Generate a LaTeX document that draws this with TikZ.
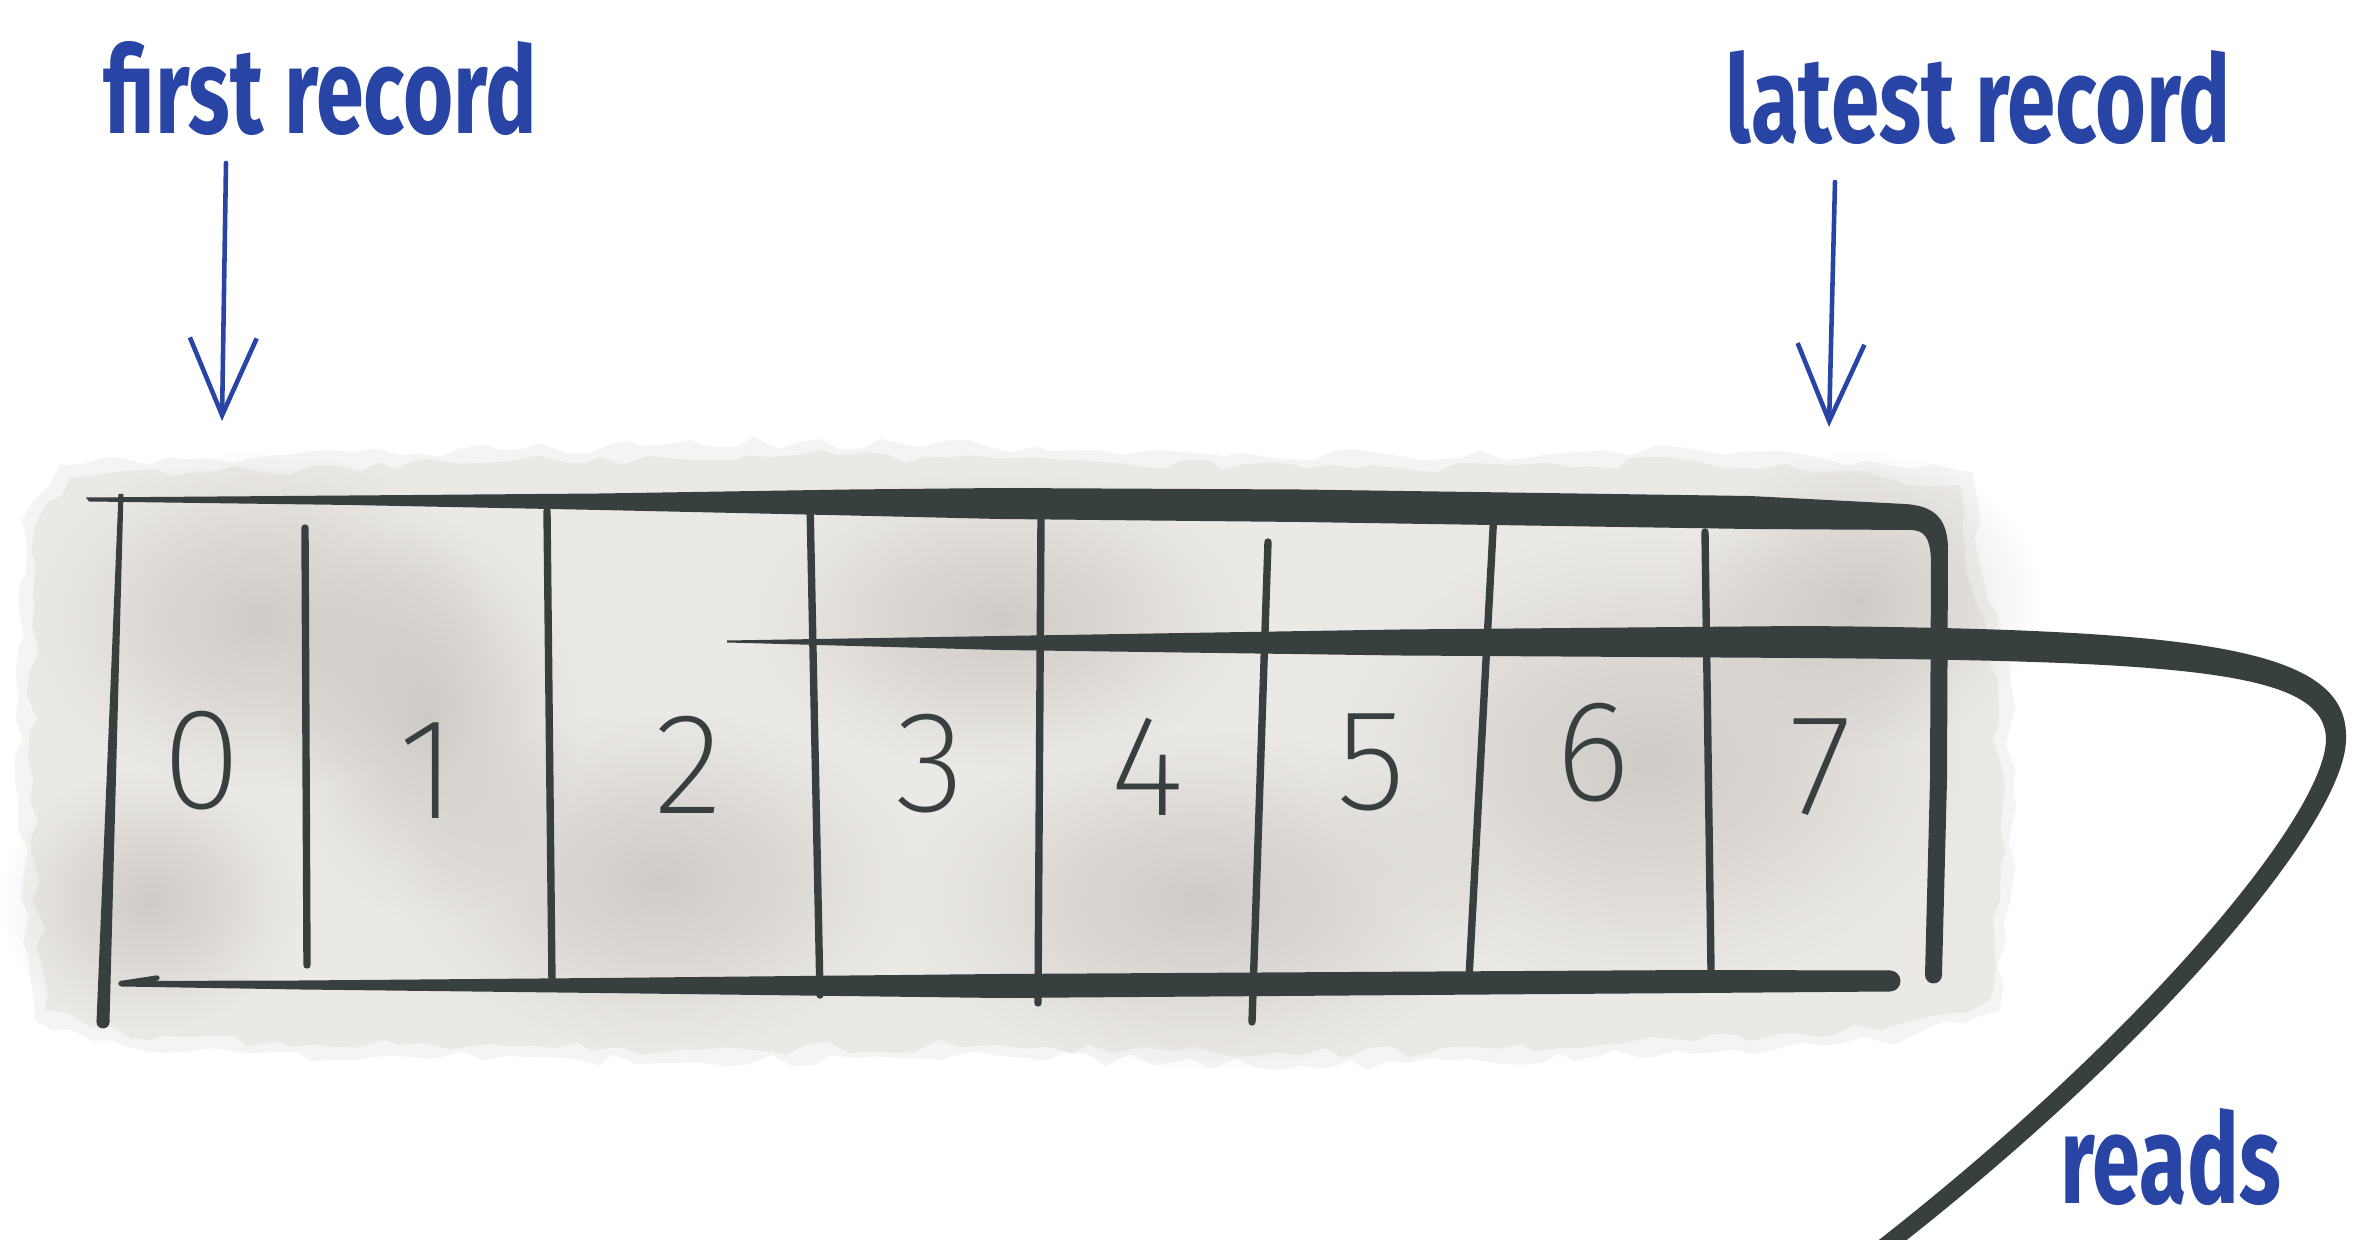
\documentclass[tikz,border=0pt]{standalone}
\usepackage{fontspec}
\usetikzlibrary{arrows.meta,fadings,decorations.pathmorphing}
\newfontfamily\handfont{Fira Sans}
\newfontfamily\digitfont{Fira Sans ExtraLight}
\definecolor{ink}{RGB}{56,63,63}
\definecolor{pen}{RGB}{40,68,165}
\definecolor{blobbase}{RGB}{235,233,230}
\definecolor{blobfringe}{RGB}{245,244,242}
\definecolor{blobdark}{RGB}{184,179,172}
\tikzfading[name=fuzzy, inner color=transparent!0, outer color=transparent!100]
\begin{document}
\begin{tikzpicture}[x=0.01cm,y=-0.01cm,
  inkfill/.style={fill=ink},
  divider/.style={draw=ink, line width=2.1pt, line cap=round},
  digit/.style={inner sep=0pt, text=ink, font=\digitfont\fontsize{41}{41}\selectfont},
  handlabel/.style={inner sep=0pt, text=pen, font=\handfont\bfseries},
  pointer/.style={draw=pen, line width=1.3pt, line cap=round, line join=round,
    -{Straight Barb[length=22pt,width=19pt]}},
  blotch/.style={fill=blobdark, fill opacity=0.55, path fading=fuzzy},
  ragged/.style={decorate, decoration={random steps, segment length=6pt, amplitude=1.8pt}}
]
\useasboundingbox (0,0) rectangle (2356,1240);
\fill[white] (0,0) rectangle (2356,1240);

% shaded background blob
\pgfmathsetseed{7}
\fill[blobfringe, ragged] (22,520) -- (60,465) -- (250,458) -- (500,450) -- (800,442) -- (1100,450)
  -- (1400,456) -- (1700,450) -- (1972,472) -- (1988,600) -- (2010,680) -- (2010,900)
  -- (2000,1010) -- (1885,1042) -- (1600,1056) -- (1300,1066) -- (1000,1056) -- (700,1062)
  -- (400,1056) -- (150,1052) -- (35,1020) -- (18,800) -- cycle;
\fill[blobbase, ragged] (35,525) -- (70,478) -- (250,470) -- (500,462) -- (800,455) -- (1100,462)
  -- (1400,468) -- (1700,462) -- (1960,485) -- (1975,600) -- (1998,680) -- (2000,900)
  -- (1990,1000) -- (1880,1030) -- (1600,1045) -- (1300,1055) -- (1000,1045) -- (700,1050)
  -- (400,1045) -- (150,1040) -- (45,1010) -- (30,800) -- cycle;
\fill[blotch] (260,620) ellipse (230 and 170);
\fill[blotch] (430,720) ellipse (150 and 200);
\fill[blotch] (660,880) ellipse (260 and 170);
\fill[blotch] (1000,620) ellipse (250 and 150);
\fill[blotch] (1200,900) ellipse (300 and 170);
\fill[blotch] (1650,760) ellipse (320 and 230);
\fill[blotch] (1860,600) ellipse (180 and 150);
\fill[blotch] (150,900) ellipse (150 and 130);

% top bar with rounded corner into the right side
\fill[inkfill] (86,497.5) -- (350,495.5) -- (600,493.5) -- (850,489.5) -- (1000,488)
  -- (1300,489.5) -- (1750,496) -- (1905,504)
  .. controls (1936,506) and (1948,520) .. (1948,550)
  -- (1947,780) -- (1942,975) -- (1925,975) -- (1930,780) -- (1931,560)
  .. controls (1930,537) and (1924,530) .. (1910,530)
  -- (1750,529) -- (1300,522) -- (1000,519) -- (850,515.5) -- (600,510) -- (350,505) -- (89,501.5) -- cycle;
\fill[inkfill] (1933.5,975) circle (8.5);
% left side
\fill[inkfill] (118.5,494) -- (123.5,494) -- (109.5,1022) -- (96.5,1022) -- cycle;
\fill[inkfill] (103,1022) circle (6.5);
% bottom bar with small hook
\draw[ink, line width=1.5pt, line cap=round] (157,978) -- (121,983.5);
\fill[inkfill] (121,981) -- (300,980.5) -- (600,978) -- (1000,974) -- (1700,970) -- (1890,970.5)
  -- (1890,991.5) -- (1700,993) -- (1000,998) -- (600,993) -- (300,989.5) -- (121,986.5) -- cycle;
\fill[inkfill] (1890,981) circle (10.5);

% cell dividers
\draw[divider] (305,528) -- (307,965);
\draw[divider] (547,511) -- (552,982);
\draw[divider] (810,502) -- (820,995);
\draw[divider] (1041,519) -- (1038,1003);
\draw[divider] (1268,542) -- (1252,1022);
\draw[divider] (1494,511) -- (1469,978);
\draw[divider] (1705,532) -- (1711,969);

% inner read line that leaves the box
\fill[inkfill] (727,640.5) -- (1000,636) -- (1400,629.5) -- (1800,626)
  .. controls (2205,629) and (2350,648) .. (2346,740)
  .. controls (2344,824) and (2156,1047) .. (1885,1257)
  -- (1875,1243)
  .. controls (2144,1033) and (2324,816) .. (2326,740)
  .. controls (2326,672) and (2195,661) .. (1800,658)
  -- (1400,655.5) -- (1000,650) -- (727,642.5) -- cycle;

% record numbers
\node[digit] (d0) at (202,761) {0};
\node[digit] (d1) at (428,771) {1};
\node[digit] (d2) at (689,765) {2};
\node[digit] (d3) at (930,764) {3};
\node[digit] (d4) at (1147,767) {4};
\node[digit] (d5) at (1371,762) {5};
\node[digit] (d6) at (1593,753) {6};
\node[digit] (d7) at (1821,767) {7};

% labels and pointers
\node[handlabel, anchor=base west] (first) at (103,134) {\resizebox{4.33cm}{0.92cm}{first record}};
\node[handlabel, anchor=base west] (latest) at (1725,143) {\resizebox{5.05cm}{0.92cm}{latest record}};
\node[handlabel, anchor=base west] (reads) at (2060,1204) {\resizebox{2.2cm}{0.95cm}{reads}};
\coordinate (fa) at (226,163);
\coordinate (fb) at (222,421);
\coordinate (la) at (1835,182);
\coordinate (lb) at (1829,427);
\draw[pointer] (fa) -- (fb);
\draw[pointer] (la) -- (lb);
\end{tikzpicture}
\end{document}
